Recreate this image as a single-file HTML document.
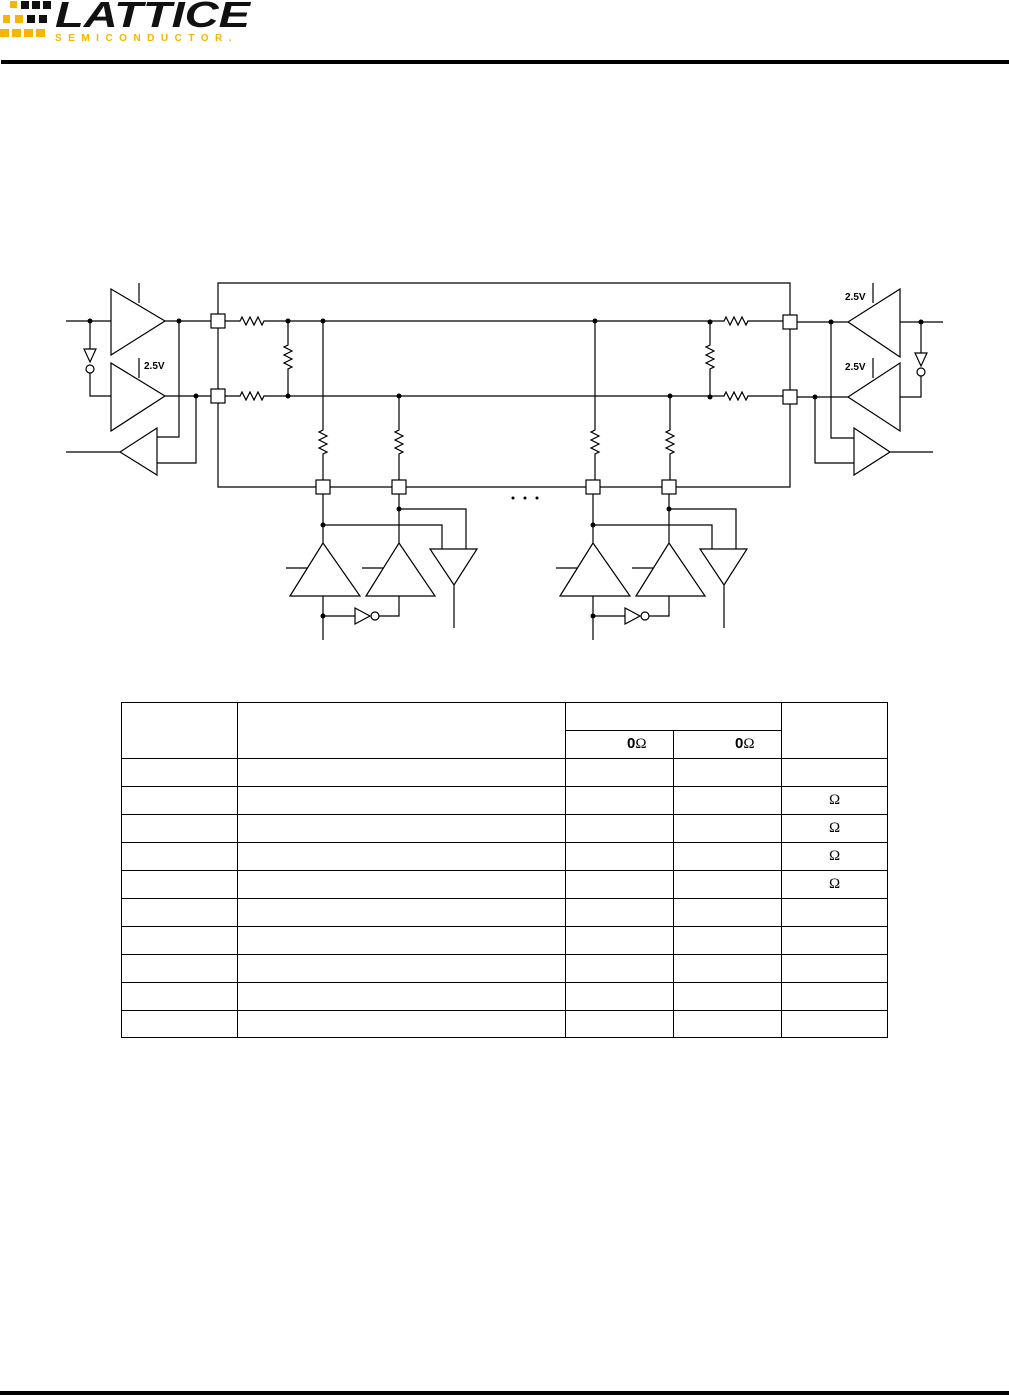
<!DOCTYPE html>
<html><head><meta charset="utf-8"><style>
body{margin:0;background:#fff;width:1009px;height:1396px;overflow:hidden;font-family:"Liberation Sans",Arial,sans-serif}
</style></head><body>
<svg width="1009" height="1396" viewBox="0 0 1009 1396" xmlns="http://www.w3.org/2000/svg" style="position:absolute;left:0;top:0">
<g fill="#f7b500">
<rect x="10" y="1" width="7" height="7"/><rect x="3" y="15" width="7" height="8"/><rect x="15" y="15" width="8" height="8"/>
<rect x="0" y="29" width="9" height="8"/><rect x="12" y="29" width="9" height="8"/><rect x="24" y="29" width="9" height="8"/><rect x="36" y="29" width="9" height="8"/>
</g>
<g fill="#111">
<rect x="21" y="1" width="8" height="8"/><rect x="32" y="1" width="8" height="8"/><rect x="43" y="1" width="8" height="8"/>
<rect x="27" y="15" width="8" height="8"/><rect x="39" y="15" width="8" height="8"/>
</g>
<text x="55" y="27" font-size="36" font-weight="bold" font-style="italic" fill="#111" textLength="195" lengthAdjust="spacingAndGlyphs">LATTICE</text>
<text x="55" y="41" font-size="10" font-weight="bold" fill="#f7b500" letter-spacing="6.5">SEMICONDUCTOR.</text>
<rect x="1" y="60" width="1008" height="4" fill="#000"/>
<rect x="0" y="1391" width="1009" height="4" fill="#000"/>

<g stroke="#000" stroke-width="1.2" fill="none">
<path d="M218 314 V283 H790 V315 M218 328 V389 M218 403 V487 H316 M330 487 H392 M406 487 H586 M600 487 H662 M676 487 H790 V404 M790 390 V329"/>
<rect x="211" y="314" width="14" height="14" fill="#fff"/><rect x="211" y="389" width="14" height="14" fill="#fff"/>
<rect x="783" y="315" width="14" height="14" fill="#fff"/><rect x="783" y="390" width="14" height="14" fill="#fff"/>
<rect x="316" y="480" width="14" height="14" fill="#fff"/><rect x="392" y="480" width="14" height="14" fill="#fff"/>
<rect x="586" y="480" width="14" height="14" fill="#fff"/><rect x="662" y="480" width="14" height="14" fill="#fff"/>
<path d="M225 321 H240 l2 -4 l4 8 l4 -8 l4 8 l4 -8 l4 8 l2 -4 H724 l2 -4 l4 8 l4 -8 l4 8 l4 -8 l4 8 l2 -4 H783"/>
<path d="M225 396 H240 l2 -4 l4 8 l4 -8 l4 8 l4 -8 l4 8 l2 -4 H724 l2 -4 l4 8 l4 -8 l4 8 l4 -8 l4 8 l2 -4 H783"/>
<path d="M288 321 V345 l-4 2 l8 4 l-8 4 l8 4 l-8 4 l8 4 l-4 2 V396"/>
<path d="M710 322 V345 l-4 2 l8 4 l-8 4 l8 4 l-8 4 l8 4 l-4 2 V397"/>
<path d="M323 321 V430 l-4 2 l8 4 l-8 4 l8 4 l-8 4 l8 4 l-4 2 V480"/>
<path d="M399 396 V430 l-4 2 l8 4 l-8 4 l8 4 l-8 4 l8 4 l-4 2 V480"/>
<path d="M595 321 V430 l-4 2 l8 4 l-8 4 l8 4 l-8 4 l8 4 l-4 2 V480"/>
<path d="M670 396 V430 l-4 2 l8 4 l-8 4 l8 4 l-8 4 l8 4 l-4 2 V480"/>
<path d="M111 289 L165 321 L111 355 Z M111 363 L165 396 L111 431 Z"/>
<path d="M139 283 V303 M139 358 V378 M66 321 H111 M90 321 V349 M84 349 H96 L90 362 Z M90 373 V396 H111"/>
<circle cx="90" cy="369" r="4"/>
<path d="M165 321 H211 M165 396 H211 M179 321 V437 H157 M196 396 V463 H157"/>
<path d="M120 452 L157 428 V475 Z M66 452 H120"/>
<path d="M848 322 L900 289 V357 Z M848 397 L900 363 V431 Z"/>
<path d="M873 283 V303 M873 358 V378 M797 322 H848 M797 397 H848 M900 322 H943 M921 322 V353 M915 353 H927 L921 366 Z M921 376 V397 H900"/>
<circle cx="921" cy="372" r="4"/>
<path d="M831 322 V438 H854 M815 397 V463 H854 M854 428 L890 452 L854 475 Z M890 452 H933"/>
<path d="M323 494 V543 M290 596 L323 543 L360 596 Z M366 596 L399 543 L435 596 Z M399 494 V543"/>
<path d="M323 525 H442 V549 M399 509 H466 V549 M430 549 H477 L454 585 Z M454 585 V628"/>
<path d="M286 568 H307 M362 568 H383 M323 596 V640 M323 616 H355 M355 608 V624 L370 616 Z M379 616 H399 V596"/>
<circle cx="375" cy="616" r="4"/>
<g transform="translate(270,0)">
<path d="M323 494 V543 M290 596 L323 543 L360 596 Z M366 596 L399 543 L435 596 Z M399 494 V543"/>
<path d="M323 525 H442 V549 M399 509 H466 V549 M430 549 H477 L454 585 Z M454 585 V628"/>
<path d="M286 568 H307 M362 568 H383 M323 596 V640 M323 616 H355 M355 608 V624 L370 616 Z M379 616 H399 V596"/>
<circle cx="375" cy="616" r="4"/>
</g>
</g>
<g fill="#000">
<circle cx="90" cy="321" r="2.5"/><circle cx="179" cy="321" r="2.5"/><circle cx="196" cy="396" r="2.5"/>
<circle cx="288" cy="321" r="2.5"/><circle cx="288" cy="396" r="2.5"/><circle cx="323" cy="321" r="2.5"/>
<circle cx="399" cy="396" r="2.5"/><circle cx="595" cy="321" r="2.5"/><circle cx="670" cy="396" r="2.5"/>
<circle cx="710" cy="322" r="2.5"/><circle cx="710" cy="397" r="2.5"/>
<circle cx="831" cy="322" r="2.5"/><circle cx="815" cy="397" r="2.5"/><circle cx="921" cy="322" r="2.5"/>
<circle cx="323" cy="525" r="2.5"/><circle cx="399" cy="509" r="2.5"/><circle cx="323" cy="616" r="2.5"/>
<circle cx="593" cy="525" r="2.5"/><circle cx="669" cy="509" r="2.5"/><circle cx="593" cy="616" r="2.5"/>
<circle cx="513" cy="498" r="1.5"/><circle cx="525" cy="498" r="1.5"/><circle cx="537" cy="498" r="1.5"/>
</g>
<g font-size="10" font-weight="bold" fill="#000">
<text x="144" y="369">2.5V</text><text x="845" y="300">2.5V</text><text x="845" y="370">2.5V</text>
</g>
<g stroke="#000" stroke-width="1" fill="none">
<rect x="121.5" y="702.5" width="766" height="335"/>
<path d="M237.5 702 V1038 M565.5 702 V1038 M781.5 702 V1038 M673.5 730 V1038 M565 730.5 H781"/>
<path d="M121 758.5 H888 M121 786.5 H888 M121 814.5 H888 M121 842.5 H888 M121 870.5 H888 M121 898.5 H888 M121 926.5 H888 M121 954.5 H888 M121 982.5 H888 M121 1010.5 H888"/>
</g>
<g font-size="15" fill="#000" font-family="Liberation Serif,serif">
<text x="627" y="748" font-weight="bold" font-family="Liberation Sans,sans-serif">0<tspan font-weight="normal" font-family="Liberation Serif,serif">Ω</tspan></text>
<text x="735" y="748" font-weight="bold" font-family="Liberation Sans,sans-serif">0<tspan font-weight="normal" font-family="Liberation Serif,serif">Ω</tspan></text>
<text x="829" y="804">Ω</text><text x="829" y="832">Ω</text><text x="829" y="860">Ω</text><text x="829" y="888">Ω</text>
</g>
</svg>
</body></html>
